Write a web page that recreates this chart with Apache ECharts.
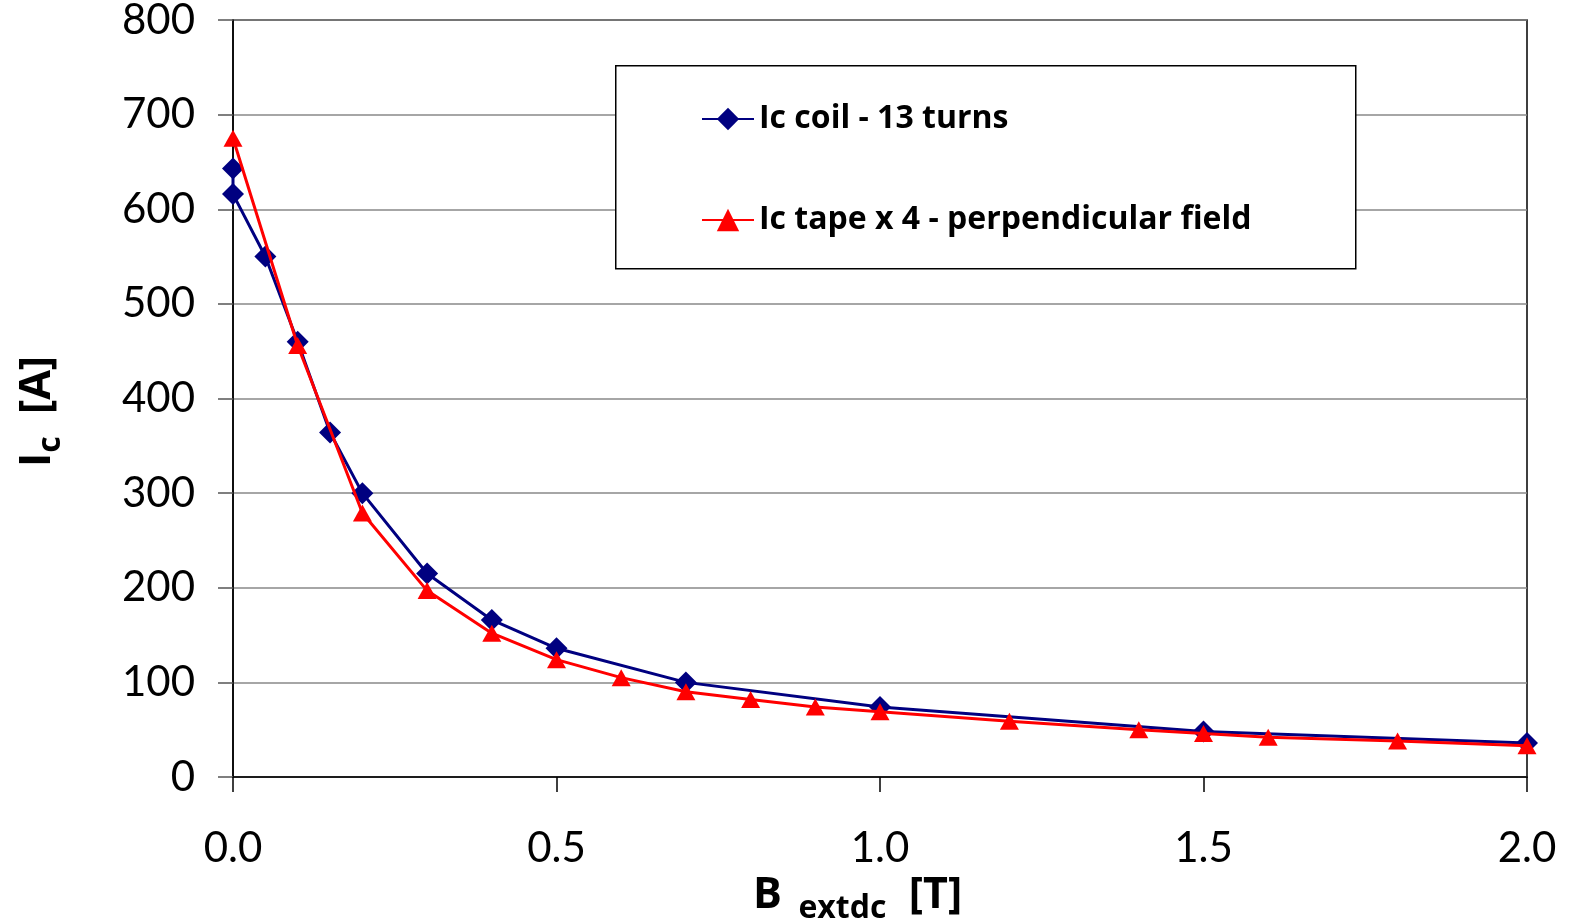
<!DOCTYPE html>
<html>
<head>
<meta charset="utf-8">
<script src="https://cdn.jsdelivr.net/npm/echarts@6/dist/echarts.min.js"></script>
<style>
html,body{margin:0;padding:0;background:#fff;}
#main{width:1574px;height:924px;}
</style>
</head>
<body>
<div id="main"></div>
<script>
// 线圈 Ic (13 turns)
var coilB = [0, 0, 0.05, 0.1, 0.15, 0.2, 0.3, 0.4, 0.5, 0.7, 1.0, 1.5, 2.0];
var coilIc = [643, 616, 550, 460, 364, 300, 215, 166, 136, 100, 74, 48, 36];
// 带材 Ic x4
var tapeB = [0, 0.1, 0.2, 0.3, 0.4, 0.5, 0.6, 0.7, 0.8, 0.9, 1.0, 1.2, 1.4, 1.5, 1.6, 1.8, 2.0];
var tapeIc = [675, 456, 279, 197, 152, 124, 105, 90, 82, 74, 69, 59, 50, 46, 42, 38, 33];
var seriesNames = ['Ic coil - 13 turns', 'Ic tape x 4 - perpendicular field'];

function pairs(xs, ys) {
	var out = [];
	for (var i = 0; i < xs.length; i++) {
		out.push([xs[i], ys[i]]);
	}
	return out;
}

var font = 'Lato';
var boldFont = 'Open Sans';
var nameRich = {
	b: { fontFamily: boldFont, fontWeight: 'bold', fontSize: 43, lineHeight: 58, color: '#000' },
	s: { fontFamily: boldFont, fontWeight: 'bold', fontSize: 32, lineHeight: 31, verticalAlign: 'bottom', color: '#000' }
};
var myChart = echarts.init(document.getElementById('main'));
var option = {
	backgroundColor: '#fff',
	animation: false,
	grid: {
		left: 233,
		right: 47,
		top: 20,
		bottom: 147,
		outerBoundsMode: 'none',
		containLabel: false,
		show: true,
		borderColor: '#000',
		borderWidth: 1.5
	},
	graphic: [{
		type: 'rect',
		left: 615,
		top: 65,
		shape: { width: 740, height: 203 },
		style: { fill: '#fff', stroke: '#000', lineWidth: 1.5 },
		z: 5
	}],
	legend: {
		orient: 'vertical',
		left: 701,
		top: 100,
		itemWidth: 52,
		itemHeight: 28,
		itemGap: 63,
		padding: 0,
		z: 10,
		textStyle: {
			fontFamily: boldFont,
			fontWeight: 'bold',
			fontSize: 32,
			lineHeight: 38,
			color: '#000'
		},
		data: seriesNames
	},
	xAxis: {
		type: 'value',
		min: 0,
		max: 2,
		interval: 0.5,
		name: '{b|B}{s|  extdc}{b|  [T]}',
		nameLocation: 'middle',
		nameGap: 84,
		nameTextStyle: {
			padding: [0, 45, 0, 0],
			rich: nameRich
		},
		axisLine: { lineStyle: { color: '#000', width: 1.5 } },
		axisTick: { show: true, length: 15, lineStyle: { color: '#000', width: 1.5 } },
		axisLabel: {
			margin: 50,
			fontFamily: font,
			fontSize: 42,
			color: '#000',
			formatter: function(v) { return v.toFixed(1); }
		},
		splitLine: { show: false }
	},
	yAxis: {
		type: 'value',
		min: 0,
		max: 800,
		interval: 100,
		name: '{b|I}{s|c}{b|  [A]}',
		nameLocation: 'middle',
		nameRotate: 90,
		nameGap: 166,
		nameTextStyle: {
			padding: [0, 26, 0, 0],
			rich: nameRich
		},
		axisLine: { show: true, lineStyle: { color: '#000', width: 1.5 } },
		axisTick: { show: true, length: 15, lineStyle: { color: '#555', width: 1.5 } },
		axisLabel: {
			margin: 38,
			fontFamily: font,
			fontSize: 42,
			color: '#000'
		},
		splitLine: { show: true, lineStyle: { color: '#888', width: 1.5 } }
	},
	series: [{
		name: seriesNames[0],
		type: 'line',
		data: pairs(coilB, coilIc),
		symbol: 'diamond',
		symbolSize: 22,
		color: '#000080',
		lineStyle: { color: '#000080', width: 3 },
		itemStyle: { color: '#000080' },
		z: 3
	}, {
		name: seriesNames[1],
		type: 'line',
		data: pairs(tapeB, tapeIc),
		symbol: 'triangle',
		symbolSize: [19, 17],
		color: '#ff0000',
		lineStyle: { color: '#ff0000', width: 3 },
		itemStyle: { color: '#ff0000' },
		z: 4
	}]
};
myChart.setOption(option);
</script>
</body>
</html>
